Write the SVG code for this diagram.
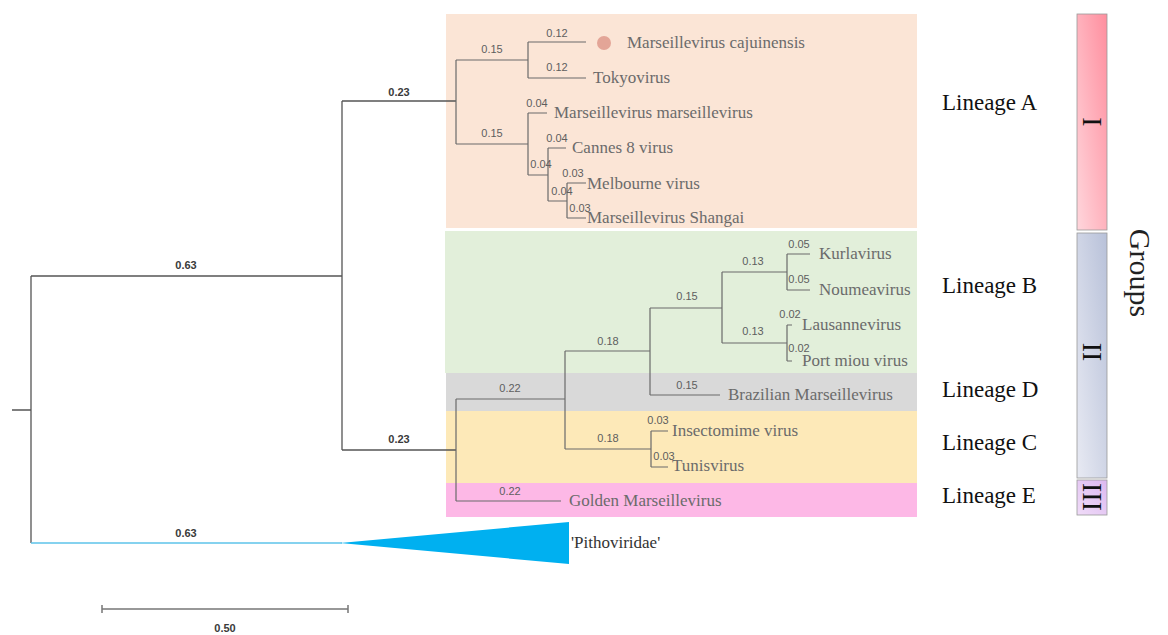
<svg xmlns="http://www.w3.org/2000/svg" width="1168" height="635" viewBox="0 0 1168 635">
<defs>
<linearGradient id="gI" x1="1" y1="0" x2="0" y2="1"><stop offset="0" stop-color="#ff8e9e"/><stop offset="1" stop-color="#ffd6dc"/></linearGradient>
<linearGradient id="gII" x1="1" y1="0" x2="0" y2="1"><stop offset="0" stop-color="#b8c1d9"/><stop offset="1" stop-color="#e8eaf3"/></linearGradient>
<linearGradient id="gIII" x1="1" y1="0" x2="0" y2="1"><stop offset="0" stop-color="#dcb8f0"/><stop offset="1" stop-color="#f0dcf8"/></linearGradient>
<style>
.br{fill:none;stroke:#6a6a6a;stroke-width:1.2}
.bro{fill:none;stroke:#555;stroke-width:1.3}
.bl{font-family:"Liberation Sans",Arial,sans-serif;font-size:11px;fill:#5e5e5e;text-anchor:middle}
.blo{font-family:"Liberation Sans",Arial,sans-serif;font-size:11px;fill:#3a3a3a;font-weight:bold;text-anchor:middle}
.tip{font-family:"Liberation Serif","Times New Roman",serif;font-size:17px;fill:#6b6b6b}
.lin{font-family:"Liberation Serif","Times New Roman",serif;font-size:23px;fill:#111}
.grp{font-family:"Liberation Serif","Times New Roman",serif;font-size:28px;fill:#111;text-anchor:middle}
</style>
</defs>
<rect width="1168" height="635" fill="#fff"/>
<g id="lineage-boxes">
<rect id="boxA" x="446" y="14" width="471" height="214" fill="#fbe5d6"/>
<rect id="boxB" x="445" y="231" width="472" height="142" fill="#e2efda"/>
<rect id="boxD" x="446" y="373" width="471" height="38" fill="#d9d9d9"/>
<rect id="boxC" x="446" y="411" width="471" height="72" fill="#fde9b8"/>
<rect id="boxE" x="446" y="483" width="471" height="34" fill="#fdb8e6"/>
</g>
<g id="connectors">
<path class="bro" d="M12 410H31M31 276V543M31 276H342M342 101V450M342 101H456M342 450H456"/>
<path d="M31 543H342" fill="none" stroke="#5cc3ea" stroke-width="1.3"/>
<path class="br" d="M456 60V144M456 60H528M456 144H528M528 42V78M528 42H586M528 78H586M528 113V175M528 113H547M528 175H548M548 148V201M548 148H566M548 201H567M567 183V218M567 183H586M567 218H586"/>
<path class="br" d="M456 399V501M456 399H565M456 501H561M565 351V449M565 351H650M565 449H651M650 308V395M650 308H722M650 395H720M722 272V343M722 272H787M722 343H787M787 254V290M787 254H810M787 290H810M787 325V361M787 325H792M787 361H792M651 431V467M651 431H668M651 467H668"/>
<path d="M102 609H348M102 605V613M348 605V613" fill="none" stroke="#777" stroke-width="1.5"/>
</g>
<g id="branch-labels">
<text class="blo" x="186" y="269">0.63</text>
<text class="blo" x="186" y="537">0.63</text>
<text class="blo" x="399" y="96">0.23</text>
<text class="blo" x="399" y="443">0.23</text>
<text class="blo" x="225" y="632">0.50</text>
<text class="bl" x="492" y="53">0.15</text>
<text class="bl" x="492" y="137">0.15</text>
<text class="bl" x="557" y="37">0.12</text>
<text class="bl" x="557" y="71">0.12</text>
<text class="bl" x="537" y="107">0.04</text>
<text class="bl" x="557" y="142">0.04</text>
<text class="bl" x="541" y="168">0.04</text>
<text class="bl" x="573" y="177">0.03</text>
<text class="bl" x="562" y="195">0.04</text>
<text class="bl" x="580" y="212">0.03</text>
<text class="bl" x="799" y="248">0.05</text>
<text class="bl" x="799" y="283">0.05</text>
<text class="bl" x="753" y="265">0.13</text>
<text class="bl" x="687" y="300">0.15</text>
<text class="bl" x="790" y="318">0.02</text>
<text class="bl" x="753" y="335">0.13</text>
<text class="bl" x="608" y="345">0.18</text>
<text class="bl" x="799" y="352">0.02</text>
<text class="bl" x="510" y="392">0.22</text>
<text class="bl" x="687" y="389">0.15</text>
<text class="bl" x="658" y="424">0.03</text>
<text class="bl" x="608" y="442">0.18</text>
<text class="bl" x="664" y="460">0.03</text>
<text class="bl" x="510" y="495">0.22</text>
</g>
<g id="tips">
<g id="tip-cajuinensis"><circle cx="604" cy="43" r="7" fill="#e3a597"/><text class="tip" x="627" y="48">Marseillevirus cajuinensis</text></g>
<g id="tip-tokyovirus"><text class="tip" x="593" y="83">Tokyovirus</text></g>
<g id="tip-marseillevirus"><text class="tip" x="554" y="118">Marseillevirus marseillevirus</text></g>
<g id="tip-cannes"><text class="tip" x="572" y="153">Cannes 8 virus</text></g>
<g id="tip-melbourne"><text class="tip" x="587" y="189">Melbourne virus</text></g>
<g id="tip-shangai"><text class="tip" x="587" y="223">Marseillevirus Shangai</text></g>
<g id="tip-kurlavirus"><text class="tip" x="819" y="259">Kurlavirus</text></g>
<g id="tip-noumeavirus"><text class="tip" x="819" y="295">Noumeavirus</text></g>
<g id="tip-lausannevirus"><text class="tip" x="802" y="330">Lausannevirus</text></g>
<g id="tip-portmiou"><text class="tip" x="802" y="366">Port miou virus</text></g>
<g id="tip-brazilian"><text class="tip" x="728" y="400">Brazilian Marseillevirus</text></g>
<g id="tip-insectomime"><text class="tip" x="672" y="436">Insectomime virus</text></g>
<g id="tip-tunisvirus"><text class="tip" x="672" y="471">Tunisvirus</text></g>
<g id="tip-golden"><text class="tip" x="569" y="506">Golden Marseillevirus</text></g>
<g id="tip-pithoviridae"><polygon points="340,543 569,522 569,564" fill="#00b0f0"/><text class="tip" x="571" y="548" style="fill:#333">'Pithoviridae'</text></g>
</g>
<g id="lineage-labels">
<text class="lin" x="942" y="110">Lineage A</text>
<text class="lin" x="942" y="293">Lineage B</text>
<text class="lin" x="942" y="397">Lineage D</text>
<text class="lin" x="942" y="450">Lineage C</text>
<text class="lin" x="942" y="503">Lineage E</text>
</g>
<g id="groups">
<g id="group-I"><rect x="1077" y="14" width="30" height="216" fill="url(#gI)" stroke="#999" stroke-width="0.8"/><text class="grp" transform="translate(1092,122) rotate(90)" dy="9.5">I</text></g>
<g id="group-II"><rect x="1077" y="233" width="30" height="245" fill="url(#gII)" stroke="#999" stroke-width="0.8"/><text class="grp" transform="translate(1092,352) rotate(90)" dy="9.5">II</text></g>
<g id="group-III"><rect x="1077" y="480" width="30" height="35" fill="url(#gIII)" stroke="#999" stroke-width="0.8"/><text class="grp" transform="translate(1092,497) rotate(90)" dy="9.5">III</text></g>
<text transform="translate(1140,273) rotate(90)" dy="10" text-anchor="middle" style="font-family:'Liberation Serif','Times New Roman',serif;font-size:30px;fill:#222">Groups</text>
</g>
</svg>
